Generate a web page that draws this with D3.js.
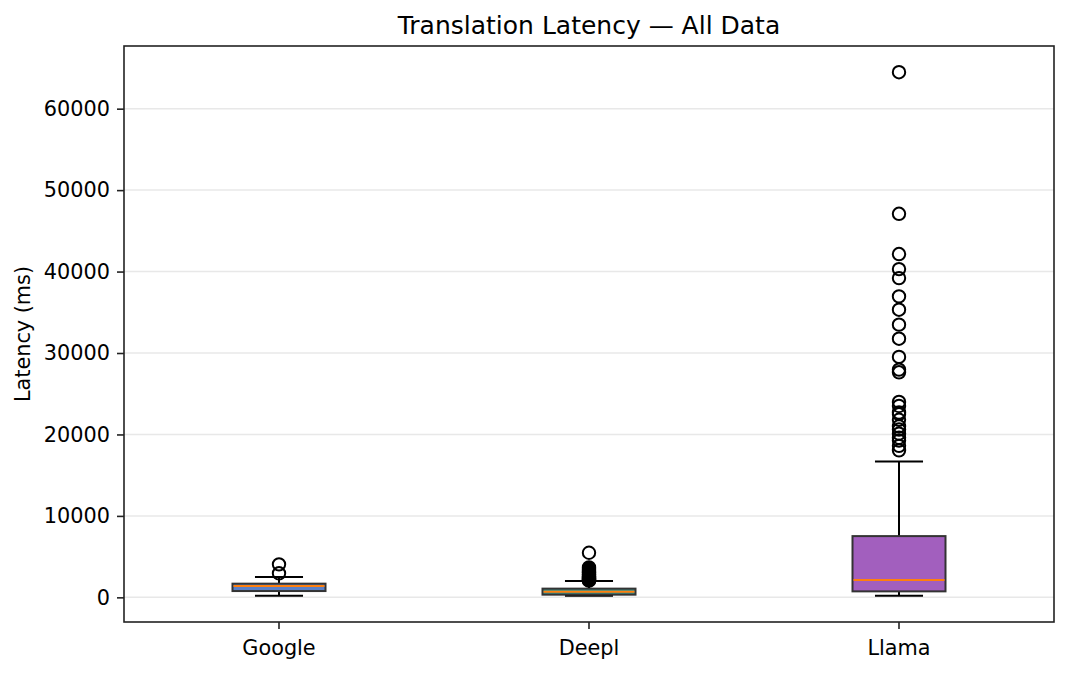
<!DOCTYPE html>
<html>
<head>
<meta charset="utf-8">
<script src="https://cdn.jsdelivr.net/npm/d3@7"></script>
<style>
  body { margin: 0; background: #fff; }
  svg { display: block; font-family: "DejaVu Sans", sans-serif; }
</style>
</head>
<body>
<div id="chart"></div>
<script>
// Box statistics (ms)
const categories = ["Google", "Deepl", "Llama"];
const lowerWhiskers = [200, 190, 188];
const q1Values = [773, 330, 735];
const medians = [1390, 700, 2120];
const q3Values = [1680, 1070, 7520];
const upperWhiskers = [2490, 2000, 16680];

// Outliers beyond the whiskers
const googleOutliers = [2950, 4050];
const deeplOutliers = [
  2050, 2100, 2150, 2200, 2260, 2320, 2380, 2450, 2520, 2600, 2680, 2760,
  2850, 2940, 3040, 3150, 3260, 3380, 3520, 3680, 5480,
];
const llamaOutliers = [
  18050, 18600, 19250, 19600, 20100, 20600, 21000, 21800, 22500, 22700,
  23500, 24000, 27630, 27960, 29520, 31760, 33480, 35320, 36950, 39200,
  40300, 42150, 47090, 64480,
];

const yTicks = [0, 10000, 20000, 30000, 40000, 50000, 60000];

const boxColors = ["#5b80c6", "#3a8f88", "#a25fbe"];

const width = 1069;
const height = 673;
const margin = { top: 46, right: 15, bottom: 51, left: 124 };

const boxes = categories.map((name, i) => ({
  name,
  lo: lowerWhiskers[i],
  q1: q1Values[i],
  med: medians[i],
  q3: q3Values[i],
  hi: upperWhiskers[i],
  outliers: [googleOutliers, deeplOutliers, llamaOutliers][i],
  color: boxColors[i],
}));

// matplotlib-like 5% padding around the data
const dataMin = d3.min(boxes, (d) => d.lo);
const dataMax = d3.max(boxes, (d) => d3.max([d.hi, ...d.outliers]));
const pad = (dataMax - dataMin) * 0.05;

const x = d3
  .scaleBand()
  .domain(categories)
  .range([margin.left, width - margin.right])
  .padding(0);

const y = d3
  .scaleLinear()
  .domain([dataMin - pad, dataMax + pad])
  .range([height - margin.bottom, margin.top]);

const svg = d3
  .select("#chart")
  .append("svg")
  .attr("width", width)
  .attr("height", height);

svg.append("rect").attr("width", width).attr("height", height).attr("fill", "#fff");

// Grid
svg
  .append("g")
  .attr("class", "grid")
  .selectAll("line")
  .data(yTicks)
  .join("line")
  .attr("x1", margin.left)
  .attr("x2", width - margin.right)
  .attr("y1", (d) => y(d))
  .attr("y2", (d) => y(d))
  .attr("stroke", "#e8e8e8")
  .attr("stroke-width", 1.5);

const boxW = x.bandwidth() * 0.3;
const capW = x.bandwidth() * 0.155;

const gBox = svg
  .append("g")
  .selectAll(".box")
  .data(boxes)
  .join("g")
  .attr("class", "box")
  .attr("transform", (d) => `translate(${x(d.name) + x.bandwidth() / 2},0)`);

// whiskers
gBox
  .append("line")
  .attr("y1", (d) => y(d.q3))
  .attr("y2", (d) => y(d.hi))
  .attr("stroke", "#000")
  .attr("stroke-width", 2);
gBox
  .append("line")
  .attr("y1", (d) => y(d.q1))
  .attr("y2", (d) => y(d.lo))
  .attr("stroke", "#000")
  .attr("stroke-width", 2);

// caps
gBox
  .selectAll(".cap")
  .data((d) => [d.lo, d.hi])
  .join("line")
  .attr("class", "cap")
  .attr("x1", -capW / 2)
  .attr("x2", capW / 2)
  .attr("y1", (d) => y(d))
  .attr("y2", (d) => y(d))
  .attr("stroke", "#000")
  .attr("stroke-width", 2);

// box
gBox
  .append("rect")
  .attr("x", -boxW / 2)
  .attr("width", boxW)
  .attr("y", (d) => y(d.q3))
  .attr("height", (d) => y(d.q1) - y(d.q3))
  .attr("fill", (d) => d.color)
  .attr("stroke", "#333")
  .attr("stroke-width", 2);

// median
gBox
  .append("line")
  .attr("x1", -boxW / 2 + 1)
  .attr("x2", boxW / 2 - 1)
  .attr("y1", (d) => y(d.med))
  .attr("y2", (d) => y(d.med))
  .attr("stroke", "#ff7f0e")
  .attr("stroke-width", 2);

// outliers
gBox
  .selectAll(".flier")
  .data((d) => d.outliers)
  .join("circle")
  .attr("class", "flier")
  .attr("cy", (d) => y(d))
  .attr("r", 6.2)
  .attr("fill", "none")
  .attr("stroke", "#000")
  .attr("stroke-width", 2);

// Axes
svg
  .append("g")
  .attr("transform", `translate(${margin.left},0)`)
  .call(d3.axisLeft(y).tickValues(yTicks).tickFormat(d3.format("d")).tickSize(7).tickPadding(7))
  .call((g) => g.select(".domain").remove())
  .call((g) => g.selectAll("line").attr("stroke", "#222").attr("stroke-width", 1.6))
  .call((g) => g.selectAll("text").attr("font-size", 20.8).attr("fill", "#000").attr("font-family", "DejaVu Sans"));

svg
  .append("g")
  .attr("transform", `translate(0,${height - margin.bottom})`)
  .call(d3.axisBottom(x).tickSize(7).tickPadding(11))
  .call((g) => g.select(".domain").remove())
  .call((g) => g.selectAll("line").attr("stroke", "#222").attr("stroke-width", 1.6))
  .call((g) => g.selectAll("text").attr("font-size", 20.8).attr("fill", "#000").attr("font-family", "DejaVu Sans"));

// Frame
svg
  .append("rect")
  .attr("x", margin.left)
  .attr("y", margin.top)
  .attr("width", width - margin.left - margin.right)
  .attr("height", height - margin.top - margin.bottom)
  .attr("fill", "none")
  .attr("stroke", "#222")
  .attr("stroke-width", 1.6);

// Titles
svg
  .append("text")
  .attr("x", (margin.left + width - margin.right) / 2)
  .attr("y", 33.5)
  .attr("text-anchor", "middle")
  .attr("font-size", 25)
  .text("Translation Latency — All Data");

svg
  .append("text")
  .attr("transform", `translate(30,${(margin.top + height - margin.bottom) / 2}) rotate(-90)`)
  .attr("text-anchor", "middle")
  .attr("font-size", 20.8)
  .text("Latency (ms)");
</script>
</body>
</html>
